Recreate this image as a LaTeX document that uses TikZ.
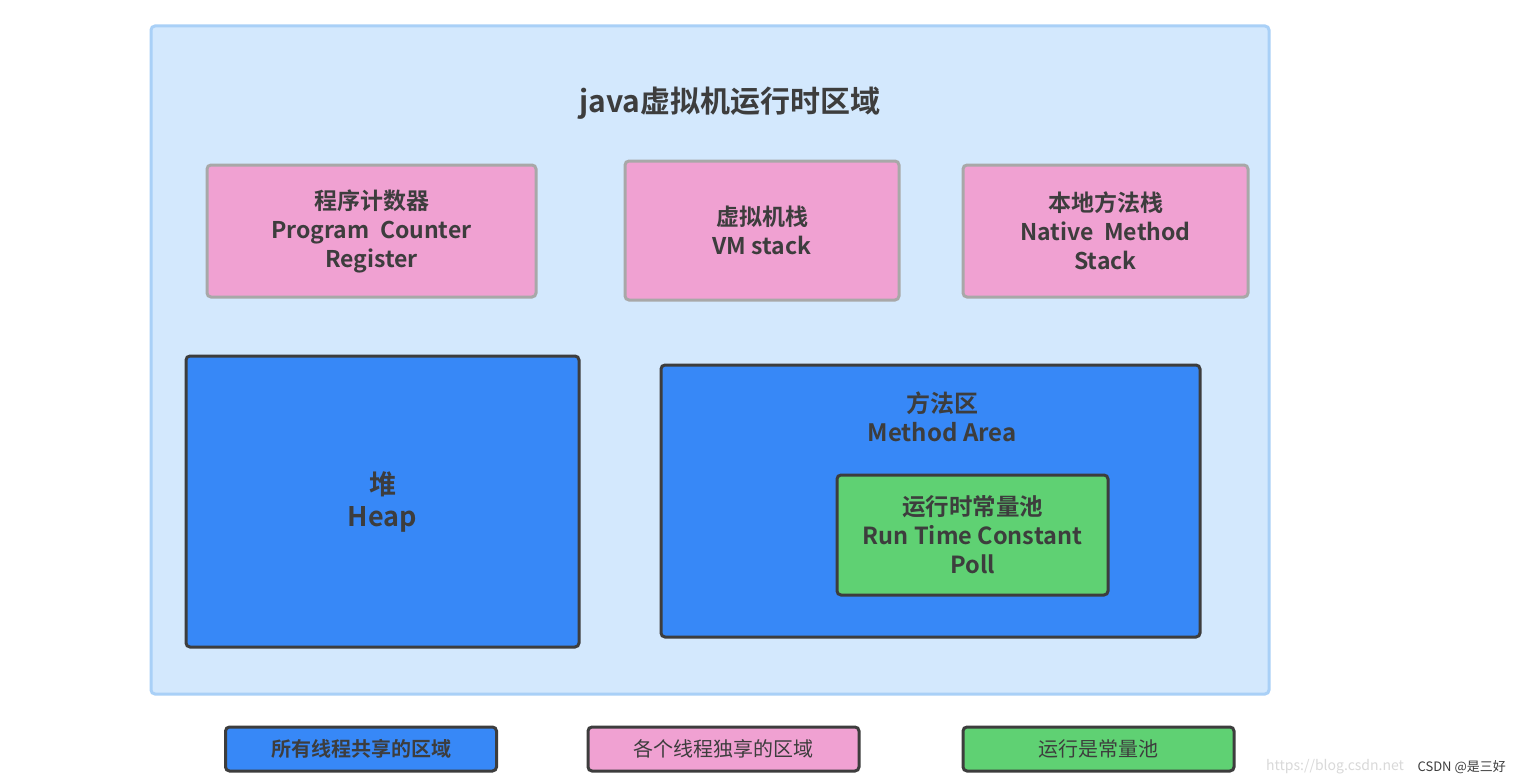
\documentclass[tikz,border=0pt]{standalone}
\usepackage{fontspec}
\setmainfont{Noto Sans CJK SC}[BoldFont={Noto Sans CJK SC Bold}]
\definecolor{bgblue}{HTML}{D3E8FD}
\definecolor{bgedge}{HTML}{A9D0F7}
\definecolor{pinkf}{HTML}{F0A1D2}
\definecolor{grayedge}{HTML}{A8A8A8}
\definecolor{bluef}{HTML}{3788F7}
\definecolor{darkedge}{HTML}{3D3D3D}
\definecolor{greenf}{HTML}{5FD173}
\definecolor{txt}{HTML}{3D3D3D}
\tikzset{
  base/.style={rectangle, rounded corners=4pt, inner sep=0pt, align=center, text=txt},
  pinkbox/.style={base, fill=pinkf, draw=grayedge, line width=3pt, font=\bfseries\fontsize{23}{29}\selectfont},
  bluebox/.style={base, fill=bluef, draw=darkedge, line width=3pt},
  greenbox/.style={base, fill=greenf, draw=darkedge, line width=3pt, font=\bfseries\fontsize{23.5}{29}\selectfont},
  legendbox/.style={base, line width=3pt, draw=darkedge, minimum width=271pt, minimum height=44pt, font=\fontsize{20}{24}\selectfont},
}
\begin{document}
\begin{tikzpicture}[x=1pt,y=-1pt]
\useasboundingbox (0,0) rectangle (1518,784);
\fill[white] (0,0) rectangle (1518,784);
\node[base, fill=bgblue, draw=bgedge, line width=3pt, minimum width=1118pt, minimum height=668pt] (outer) at (710,360) {};
\node[text=txt, font=\bfseries\fontsize{30}{36}\selectfont, inner sep=0pt] (title) at (730,103) {java虚拟机运行时区域};
\node[pinkbox, minimum width=329pt, minimum height=132pt] (pc) at (371.5,231) {程序计数器\\Program\ \ Counter\\Register};
\node[pinkbox, minimum width=274pt, minimum height=139pt] (vm) at (762,230.5) {虚拟机栈\\VM stack};
\node[pinkbox, minimum width=285pt, minimum height=132pt] (native) at (1105.5,231) {本地方法栈\\Native\ \ Method\\Stack};
\node[bluebox, minimum width=393pt, minimum height=291pt, font=\bfseries\fontsize{27}{32}\selectfont] (heap) at (382.5,501.5) {堆\\Heap};
\node[bluebox, minimum width=539pt, minimum height=272pt] (method) at (930.5,501) {};
\node[base, font=\bfseries\fontsize{24}{29}\selectfont] (methodlabel) at (942,416.5) {方法区\\Method Area};
\node[greenbox, minimum width=271pt, minimum height=120pt] (pool) at (972.5,535) {运行时常量池\\Run Time Constant\\Poll};
\node[legendbox, fill=bluef, font=\bfseries\fontsize{20}{24}\selectfont] (lshared) at (361,749) {所有线程共享的区域};
\node[legendbox, fill=pinkf] (lprivate) at (723.5,749) {各个线程独享的区域};
\node[legendbox, fill=greenf] (lpool) at (1098.5,749) {运行是常量池};
\node[anchor=west, inner sep=0pt, text=black!15, font=\fontsize{14}{16}\selectfont] (url) at (1266,767) {https://blog.csdn.net};
\node[anchor=east, inner sep=0pt, text=txt, font=\fontsize{13}{16}\selectfont] (csdn) at (1506,767) {CSDN @是三好};
\end{tikzpicture}
\end{document}
